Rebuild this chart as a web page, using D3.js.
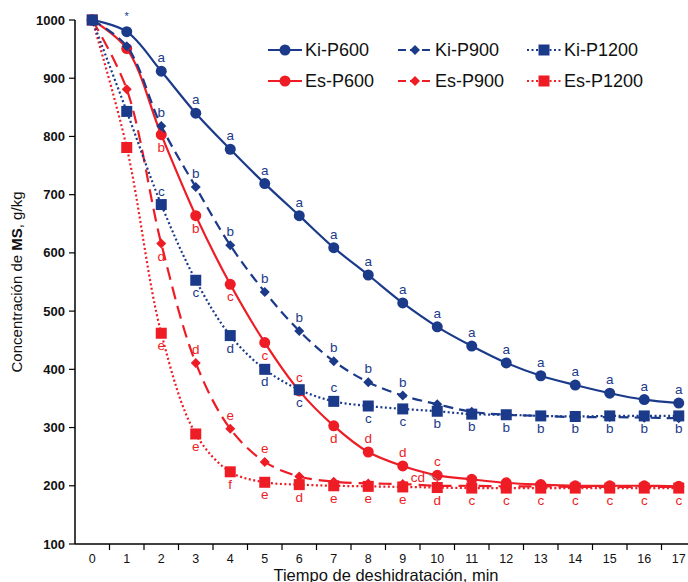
<!DOCTYPE html>
<html><head><meta charset="utf-8">
<script src="https://cdn.jsdelivr.net/npm/d3@7"></script>
<style>body{margin:0;background:#fff}svg{display:block;font-family:"Liberation Sans",Arial,sans-serif}</style>
</head><body>
<svg id="c" width="688" height="582"></svg>
<script>
const minutes = [0,1,2,3,4,5,6,7,8,9,10,11,12,13,14,15,16,17];
const yTicks = [100,200,300,400,500,600,700,800,900,1000];

const kiP600  = [1000,980,912,840,778,719,664,609,562,514,473,440,411,389,373,359,348,342];
const kiP900  = [1000,955,818,713,613,533,466,414,378,355,340,327,322,320,318,318,317,316];
const kiP1200 = [1000,843,683,553,458,400,365,345,337,332,328,323,322,320,319,320,320,320];
const esP600  = [1000,951,803,664,546,446,363,303,258,234,218,211,205,202,200,200,200,199];
const esP900  = [1000,881,616,411,298,241,216,207,204,203,200,200,199,199,198,198,198,198];
const esP1200 = [1000,781,462,289,224,206,202,200,199,198,197,196,196,196,196,196,196,196];

// significance letters ("" = none) and placement (u = above, d = below)
const kiP600Let  = ["","*","a","a","a","a","a","a","a","a","a","a","a","a","a","a","a","a"];
const kiP600Pos  = "uuuuuuuuuuuuuuuuuu";
const kiP900Let  = ["","","b","b","b","b","b","b","b","b","","","","","","","",""];
const kiP900Pos  = "uuuuuuuuuuuuuuuuuu";
const kiP1200Let = ["","","c","c","d","d","c","c","c","c","b","b","b","b","b","b","b","b"];
const kiP1200Pos = "uuuddddudddddddddd";
const esP600Let  = ["","","b","b","c","c","c","d","d","d","c","","","","","","",""];
const esP600Pos  = "dddddduduuuddddddd";
const esP900Let  = ["","","d","d","e","e","","","","","","","","","","","",""];
const esP900Pos  = "ddduuuuuuuuuuuuuuu";
const esP1200Let = ["","","e","e","f","e","d","e","e","e","d","c","c","c","c","c","c","c"];
const esP1200Pos = "dddddddddddddddddd";

const NAVY = "#1b3a8a", RED = "#ee1c25";
const series = [
  {name:"Ki-P600", values:kiP600, color:NAVY, dash:null, sym:"circle", letters:kiP600Let, pos:kiP600Pos},
  {name:"Ki-P900", values:kiP900, color:NAVY, dash:"10,6", sym:"diamond", letters:kiP900Let, pos:kiP900Pos},
  {name:"Ki-P1200", values:kiP1200, color:NAVY, dash:"2,2.5", sym:"square", letters:kiP1200Let, pos:kiP1200Pos},
  {name:"Es-P600", values:esP600, color:RED, dash:null, sym:"circle", letters:esP600Let, pos:esP600Pos},
  {name:"Es-P900", values:esP900, color:RED, dash:"13,7", sym:"diamond", letters:esP900Let, pos:esP900Pos},
  {name:"Es-P1200", values:esP1200, color:RED, dash:"2,2.5", sym:"square", letters:esP1200Let, pos:esP1200Pos}
];
const drawOrder = [5,4,3,2,1,0];

const svg = d3.select("#c");
const x = d3.scaleBand().domain(minutes).range([75,696]).padding(0);
const y = d3.scaleLinear().domain([100,1000]).range([544,20]);
const cx = d => x(d) + x.bandwidth()/2;

// axes
const g = svg.append("g");
g.append("line").attr("x1",75).attr("x2",75).attr("y1",y(1000)).attr("y2",y(100)).attr("stroke","#000").attr("stroke-width",1.5);
g.append("line").attr("x1",75).attr("x2",696).attr("y1",y(100)).attr("y2",y(100)).attr("stroke","#000").attr("stroke-width",1.5);
yTicks.forEach(t=>{
  g.append("line").attr("x1",69).attr("x2",75).attr("y1",y(t)).attr("y2",y(t)).attr("stroke","#000").attr("stroke-width",1.2);
  g.append("text").attr("x",65).attr("y",y(t)+4.5).attr("text-anchor","end").attr("font-size",13).attr("font-weight","bold").attr("fill","#111").text(t);
});
minutes.forEach(m=>{
  const xe = x(m) + x.bandwidth();
  g.append("line").attr("x1",xe).attr("x2",xe).attr("y1",y(100)).attr("y2",y(100)+6).attr("stroke","#000").attr("stroke-width",1.2);
  g.append("text").attr("x",cx(m)).attr("y",563).attr("text-anchor","middle").attr("font-size",12.5).attr("fill","#111").text(m);
});
svg.append("text").attr("x",386).attr("y",580.5).attr("text-anchor","middle").attr("font-size",16.5).attr("fill","#111").text("Tiempo de deshidratación, min");
const yt = svg.append("text").attr("transform","translate(22,282) rotate(-90)").attr("text-anchor","middle").attr("font-size",15).attr("fill","#111");
yt.append("tspan").text("Concentración de ");
yt.append("tspan").attr("font-weight","bold").text("MS");
yt.append("tspan").text(", g/kg");

// symbols
function drawSym(sel, sym, px, py, color, scale=1){
  if(sym==="circle") sel.append("circle").attr("cx",px).attr("cy",py).attr("r",5.5*scale).attr("fill",color);
  else if(sym==="square") sel.append("rect").attr("x",px-5.5*scale).attr("y",py-5.5*scale).attr("width",11*scale).attr("height",11*scale).attr("fill",color);
  else sel.append("path").attr("d",`M${px},${py-5*scale}L${px+5*scale},${py}L${px},${py+5*scale}L${px-5*scale},${py}Z`).attr("fill",color);
}

const line = d3.line().x((d,i)=>cx(minutes[i])).y(d=>y(d)).curve(d3.curveCatmullRom.alpha(0.5));
const plot = svg.append("g");
drawOrder.forEach(k=>{
  const s = series[k];
  plot.append("path").attr("d",line(s.values)).attr("fill","none").attr("stroke",s.color).attr("stroke-width",2.2).attr("stroke-dasharray",s.dash);
  s.values.forEach((v,i)=>drawSym(plot,s.sym,cx(minutes[i]),y(v),s.color));
});
// letters
series.forEach(s=>{
  s.letters.forEach((l,i)=>{
    if(!l) return;
    const up = s.pos[i]==="u";
    plot.append("text").attr("x",cx(minutes[i])).attr("y",y(s.values[i]) + (up ? (l==="*"?-12:-9) : 17))
      .attr("text-anchor","middle").attr("font-size",l==="*"?11:13.5).attr("fill",s.color).text(l);
  });
});
// "cd" annotation with leader
plot.append("line").attr("x1",428).attr("y1",474).attr("x2",cx(10)).attr("y2",y(esP900[10])-6).attr("stroke","#999").attr("stroke-width",1);
plot.append("text").attr("x",418).attr("y",482).attr("text-anchor","middle").attr("font-size",13.5).attr("fill",RED).text("cd");

// legend
const leg = svg.append("g");
const lx = [268,398,527], ly = [50,81];
series.forEach((s,i)=>{
  const col = i%3, row = Math.floor(i/3);
  const x0 = lx[col], yy = ly[row];
  leg.append("line").attr("x1",x0).attr("x2",x0+34).attr("y1",yy).attr("y2",yy).attr("stroke",s.color).attr("stroke-width",2.2)
    .attr("stroke-dasharray", s.dash ? (s.sym==="diamond"?"8,4":"2,2.5") : null);
  drawSym(leg,s.sym,x0+17,yy,s.color);
  leg.append("text").attr("x",x0+37).attr("y",yy+6).attr("font-size",18).attr("fill","#111").text(s.name);
});
</script>
</body></html>
